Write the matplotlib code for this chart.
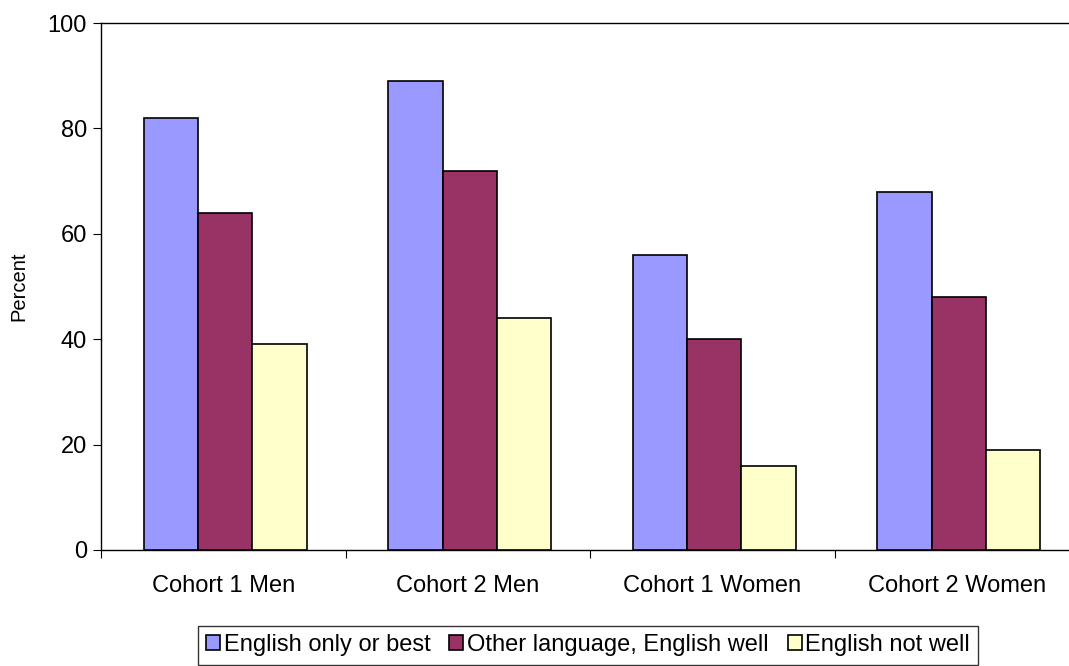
import numpy as np
import matplotlib.pyplot as plt

categories = ["Cohort 1 Men", "Cohort 2 Men", "Cohort 1 Women", "Cohort 2 Women"]
series_names = ["English only or best", "Other language, English well", "English not well"]
english_best = [82, 89, 56, 68]
other_well = [64, 72, 40, 48]
not_well = [39, 44, 16, 19]
colors = ["#9999FF", "#993366", "#FFFFCC"]

plt.rcParams['font.family'] = ['Liberation Sans', 'DejaVu Sans']

fig = plt.figure(figsize=(10.69, 6.66), dpi=100)
ax = fig.add_axes([101 / 1069, 116 / 666, 978 / 1069, 527 / 666])

x = np.arange(len(categories))
w = 0.222
handles = []
for i, (vals, name) in enumerate(zip([english_best, other_well, not_well], series_names)):
    b = ax.bar(x + (i - 1) * w + 0.008, vals, w, color=colors[i], edgecolor='black',
               linewidth=1.2, label=name, zorder=3)
    handles.append(b)

ax.set_xlim(-0.5, 3.5)
ax.set_ylim(0, 100)
ax.set_yticks([0, 20, 40, 60, 80, 100])
ax.set_xticks(np.arange(-0.5, 4.0, 1.0))
ax.set_xticklabels([])
ax.set_xticks(x, minor=True)
ax.set_xticklabels(categories, minor=True)
ax.tick_params(axis='x', which='minor', length=0, pad=18, labelsize=17)
ax.tick_params(axis='x', which='major', length=6, direction='out')
ax.tick_params(axis='y', length=6, direction='out', labelsize=17, pad=4)
for s in ax.spines.values():
    s.set_linewidth(1.0)
ax.set_ylabel("Percent", fontsize=14.5, labelpad=14)

leg = fig.legend(handles=handles, labels=series_names, loc='upper center',
                 bbox_to_anchor=(588 / 1069, 1 - 626 / 666), ncol=3, fontsize=17,
                 frameon=True, fancybox=False, edgecolor='black', handlelength=0.6,
                 handleheight=0.6, handletextpad=0.15, columnspacing=0.8,
                 borderpad=0.35, borderaxespad=0)
leg.get_frame().set_linewidth(1.0)

fig.savefig("out.png", dpi=100)
